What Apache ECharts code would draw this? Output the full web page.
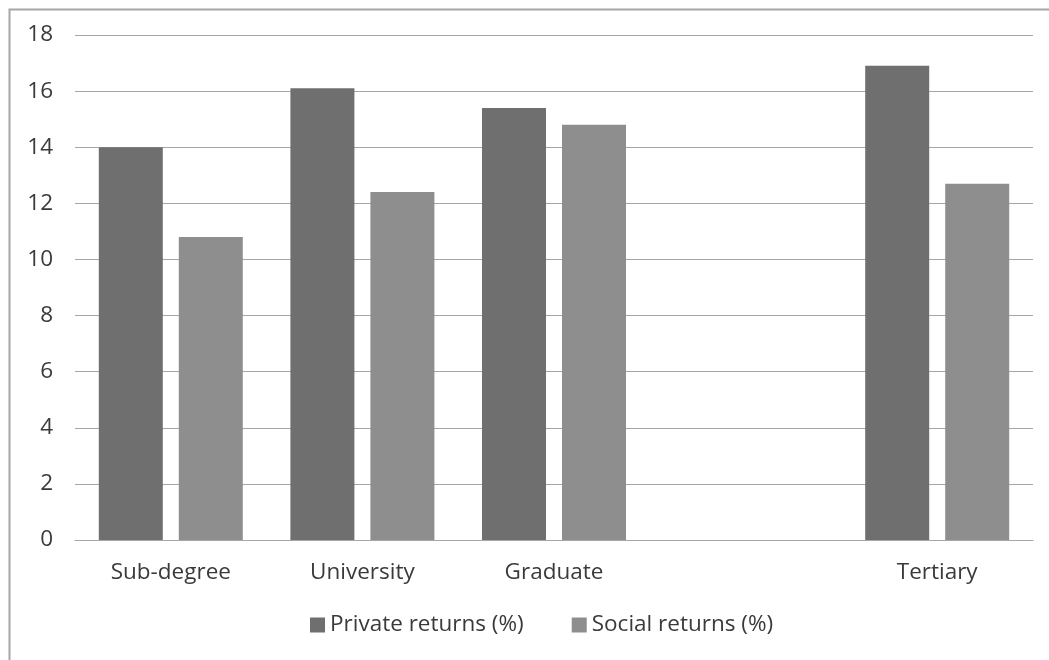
<!DOCTYPE html>
<html>
<head>
<meta charset="utf-8">
<script src="https://cdn.jsdelivr.net/npm/echarts@6/dist/echarts.min.js"></script>
<style>
  html, body { margin: 0; padding: 0; background: #fff; }
  #chart { width: 1049px; height: 660px; }
</style>
</head>
<body>
<div id="chart"></div>
<script>
// categories (empty slot between Graduate and Tertiary, as in the source chart)
const categories = ['Sub-degree', 'University', 'Graduate', '', 'Tertiary'];
const privateReturns = [14.0, 16.1, 15.4, null, 16.9];
const socialReturns = [10.8, 12.4, 14.8, null, 12.7];
const seriesNames = ['Private returns (%)', 'Social returns (%)'];

const chart = echarts.init(document.getElementById('chart'));
const labelFont = { fontFamily: 'Open Sans', fontSize: 22.5, color: '#3a3a3a' };

chart.setOption({
  backgroundColor: '#fff',
  animation: false,
  graphic: [{
    type: 'rect', left: 7, top: 7, silent: true,
    shape: { width: 1100, height: 700 },
    style: { fill: 'none', stroke: '#a6a6a6', lineWidth: 2 }
  }],
  legend: {
    data: seriesNames, top: 606, left: 305,
    itemWidth: 15, itemHeight: 15, itemGap: 48,
    icon: 'rect', textStyle: Object.assign({ lineHeight: 28 }, labelFont)
  },
  grid: { left: 75, right: 16, top: 35, bottom: 120 },
  xAxis: {
    type: 'category', data: categories,
    axisLine: { lineStyle: { color: '#a6a6a6', width: 1 } },
    axisTick: { show: false },
    axisLabel: Object.assign({ margin: 21 }, labelFont)
  },
  yAxis: {
    type: 'value', min: 0, max: 18, interval: 2,
    axisLine: { show: false }, axisTick: { show: false },
    axisLabel: Object.assign({ margin: 22 }, labelFont),
    splitLine: { lineStyle: { color: '#a6a6a6', width: 1 } }
  },
  series: [
    { name: seriesNames[0], type: 'bar', data: privateReturns, barWidth: 64, barGap: '25%',
      itemStyle: { color: '#6f6f6f' } },
    { name: seriesNames[1], type: 'bar', data: socialReturns, barWidth: 64,
      itemStyle: { color: '#8e8e8e' } }
  ]
});
</script>
</body>
</html>
